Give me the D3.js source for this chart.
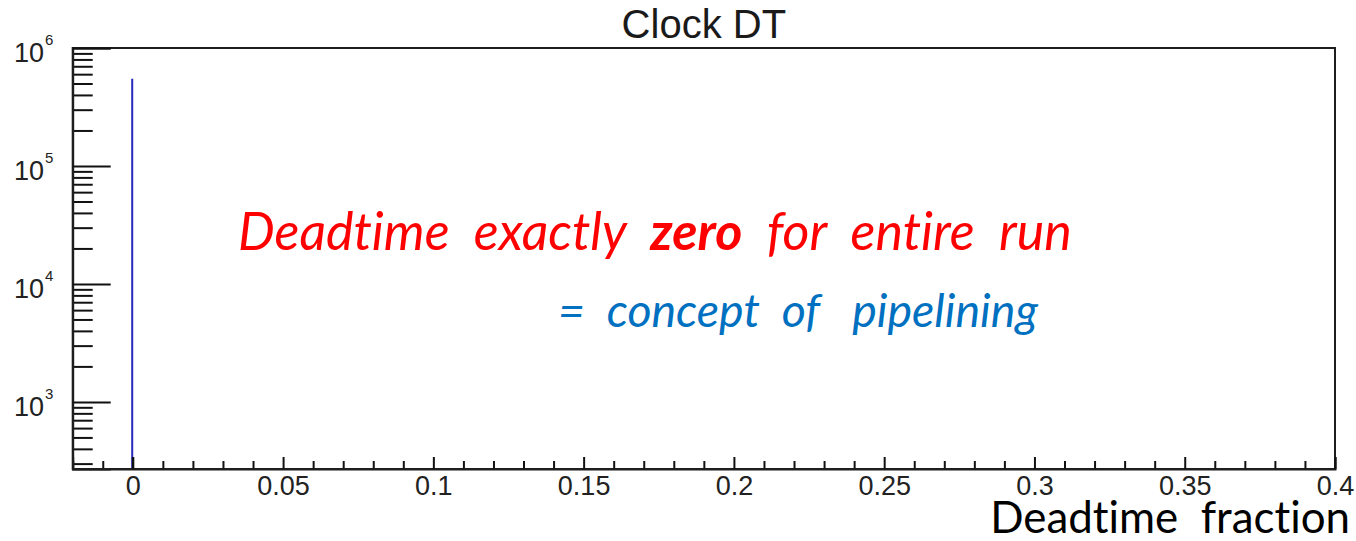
<!DOCTYPE html>
<html>
<head>
<meta charset="utf-8">
<script src="https://cdn.jsdelivr.net/npm/d3@7"></script>
<style>
  html, body { margin: 0; padding: 0; background: #fff; }
  svg { display: block; }
  text { white-space: pre; font-variant-ligatures: none; font-feature-settings: "liga" 0, "clig" 0; }
</style>
</head>
<body>
<svg id="chart" width="1356" height="541"></svg>
<script>
// Histogram of the clock deadtime fraction: every entry sits in the zero bin.
const deadtimeFraction = [0];
const entries = [550000];

// Axis ranges and labelled ticks
const xDomain = [-0.02, 0.4];
const yDomain = [270, 1e6];
const xMajorTicks = [0, 0.05, 0.1, 0.15, 0.2, 0.25, 0.3, 0.35, 0.4];
const xTickLabels = ["0", "0.05", "0.1", "0.15", "0.2", "0.25", "0.3", "0.35", "0.4"];
const yMajorTicks = [1e3, 1e4, 1e5, 1e6];
const yTickExponents = ["3", "4", "5", "6"];

const title = "Clock DT";
const xTitle = "Deadtime  fraction";
const noteMain = ["Deadtime  exactly  ", "zero", "  for  entire  run"];
const noteSub = "=  concept  of   pipelining";

const frame = { left: 72.7, right: 1335, top: 48, bottom: 469 };

const svg = d3.select("#chart");

const x = d3.scaleLinear().domain(xDomain).range([frame.left, frame.right]);
const y = d3.scaleLog().domain(yDomain).range([frame.bottom, frame.top]);

const axisFont = "'Liberation Sans', Arial, Helvetica, sans-serif";
const noteFont = "Lato, 'Open Sans', sans-serif";

// Frame
svg.append("rect")
  .attr("x", frame.left).attr("y", frame.top)
  .attr("width", frame.right - frame.left)
  .attr("height", frame.bottom - frame.top)
  .attr("fill", "none").attr("stroke", "#1e1e1e").attr("stroke-width", 2);

// X axis: minor ticks every 0.01, major ticks with labels
const xMinor = x.ticks(42).filter(v => !xMajorTicks.some(m => Math.abs(m - v) < 1e-9));
svg.append("g")
  .attr("transform", `translate(0,${frame.bottom})`)
  .call(d3.axisBottom(x).tickValues(xMinor).tickSize(-8).tickFormat(""))
  .call(g => g.select(".domain").remove())
  .call(g => g.selectAll("line").attr("stroke", "#111").attr("stroke-width", 2));

svg.append("g")
  .attr("transform", `translate(0,${frame.bottom})`)
  .call(d3.axisBottom(x).tickValues(xMajorTicks).tickSize(-12).tickPadding(7)
    .tickFormat((d, i) => xTickLabels[i]))
  .call(g => g.select(".domain").attr("stroke", "#1e1e1e").attr("stroke-width", 2))
  .call(g => g.selectAll("line").attr("stroke", "#111").attr("stroke-width", 2))
  .call(g => g.selectAll("text")
    .attr("font-family", axisFont).attr("font-size", 27).attr("fill", "#222"));

// Y axis (log): minor ticks at 2..9 × 10^n, major ticks at decades
const yMinor = y.ticks().filter(v => !yMajorTicks.includes(v) && v >= yDomain[0] && v <= yDomain[1]);
svg.append("g")
  .attr("transform", `translate(${frame.left},0)`)
  .call(d3.axisRight(y).tickValues(yMinor).tickSize(20).tickFormat(""))
  .call(g => g.select(".domain").remove())
  .call(g => g.selectAll("line").attr("stroke", "#111").attr("stroke-width", 2));

svg.append("g")
  .attr("transform", `translate(${frame.left},0)`)
  .call(d3.axisRight(y).tickValues(yMajorTicks).tickSize(38).tickFormat(""))
  .call(g => g.select(".domain").attr("stroke", "#1e1e1e").attr("stroke-width", 2))
  .call(g => g.selectAll("line").attr("stroke", "#111").attr("stroke-width", 2));

// Y tick labels as 10^n
const yLabels = svg.append("g").attr("font-family", axisFont).attr("fill", "#222");
yMajorTicks.forEach((v, i) => {
  yLabels.append("text")
    .attr("x", 44).attr("y", y(v) + 14)
    .attr("text-anchor", "end").attr("font-size", 27)
    .text("10");
  yLabels.append("text")
    .attr("x", 45).attr("y", y(v) - 3)
    .attr("font-size", 15)
    .text(yTickExponents[i]);
});

// Histogram spike
svg.append("g").selectAll("line.bin")
  .data(deadtimeFraction.map((d, i) => ({ x: d, n: entries[i] })))
  .join("line")
  .attr("class", "bin")
  .attr("x1", d => x(d.x) - 0.6).attr("x2", d => x(d.x) - 0.6)
  .attr("y1", frame.bottom - 1).attr("y2", d => y(d.n))
  .attr("stroke", "#2828bc").attr("stroke-width", 2);

// Redraw the zero major tick over the spike
svg.append("line")
  .attr("x1", x(0)).attr("x2", x(0))
  .attr("y1", frame.bottom).attr("y2", frame.bottom - 12)
  .attr("stroke", "#111").attr("stroke-width", 2);

// Title
svg.append("text")
  .attr("x", (frame.left + frame.right) / 2).attr("y", 38)
  .attr("text-anchor", "middle")
  .attr("font-family", axisFont).attr("font-size", 40).attr("fill", "#1a1a1a")
  .text(title);

// Fit a text element horizontally between two x positions by scaling its font size
function fitWidth(sel, width, base) {
  const len = sel.node().getComputedTextLength();
  sel.attr("font-size", base * width / len);
}

// Annotation lines
const main = svg.append("text")
  .attr("x", 238).attr("y", 250)
  .attr("font-family", noteFont).attr("font-style", "italic")
  .attr("font-size", 40).attr("fill", "#ff0000");
noteMain.forEach((s, i) => {
  main.append("tspan").attr("font-weight", i === 1 ? 700 : 400).text(s);
});
fitWidth(main, 1072 - 238, 40);

const sub = svg.append("text")
  .attr("x", 558).attr("y", 327)
  .attr("font-family", noteFont).attr("font-style", "italic")
  .attr("font-size", 40).attr("fill", "#0070c0")
  .text(noteSub);
fitWidth(sub, 1038 - 558, 40);

// X axis title
const xt = svg.append("text")
  .attr("x", 1350).attr("y", 533)
  .attr("text-anchor", "end")
  .attr("font-family", noteFont)
  .attr("font-size", 40).attr("fill", "#000")
  .text(xTitle);
fitWidth(xt, 1350 - 990, 40);
</script>
</body>
</html>
